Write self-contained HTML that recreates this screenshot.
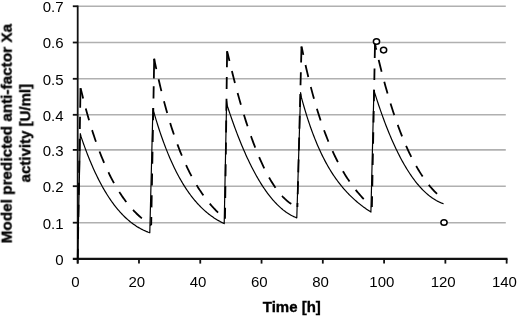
<!DOCTYPE html>
<html><head><meta charset="utf-8"><style>
html,body{margin:0;padding:0;background:#fff;}
body{width:520px;height:317px;overflow:hidden;}
svg{display:block;filter:blur(0.35px);}
text{will-change:transform;}
</style></head><body>
<svg width="520" height="317" viewBox="0 0 520 317">
<line x1="78" y1="6.25" x2="505.8" y2="6.25" stroke="#b0b0b0" stroke-width="1.6"/>
<line x1="78" y1="42.5" x2="505.8" y2="42.5" stroke="#b0b0b0" stroke-width="1.6"/>
<line x1="78" y1="78.8" x2="505.8" y2="78.8" stroke="#b0b0b0" stroke-width="1.6"/>
<line x1="78" y1="114.8" x2="505.8" y2="114.8" stroke="#b0b0b0" stroke-width="1.6"/>
<line x1="78" y1="149.9" x2="505.8" y2="149.9" stroke="#b0b0b0" stroke-width="1.6"/>
<line x1="78" y1="186.2" x2="505.8" y2="186.2" stroke="#b0b0b0" stroke-width="1.6"/>
<line x1="78" y1="222.7" x2="505.8" y2="222.7" stroke="#b0b0b0" stroke-width="1.6"/>
<line x1="77.7" y1="5.4" x2="77.7" y2="263.6" stroke="#111" stroke-width="1.8"/>
<line x1="72.8" y1="258.95" x2="507.5" y2="258.95" stroke="#111" stroke-width="2.2"/>
<line x1="72.8" y1="6.25" x2="77.7" y2="6.25" stroke="#111" stroke-width="1.8"/>
<line x1="72.8" y1="42.5" x2="77.7" y2="42.5" stroke="#111" stroke-width="1.8"/>
<line x1="72.8" y1="78.8" x2="77.7" y2="78.8" stroke="#111" stroke-width="1.8"/>
<line x1="72.8" y1="114.8" x2="77.7" y2="114.8" stroke="#111" stroke-width="1.8"/>
<line x1="72.8" y1="149.9" x2="77.7" y2="149.9" stroke="#111" stroke-width="1.8"/>
<line x1="72.8" y1="186.2" x2="77.7" y2="186.2" stroke="#111" stroke-width="1.8"/>
<line x1="72.8" y1="222.7" x2="77.7" y2="222.7" stroke="#111" stroke-width="1.8"/>
<line x1="77.70" y1="258.8" x2="77.70" y2="263.6" stroke="#111" stroke-width="1.8"/>
<line x1="138.98" y1="258.8" x2="138.98" y2="263.6" stroke="#111" stroke-width="1.8"/>
<line x1="200.26" y1="258.8" x2="200.26" y2="263.6" stroke="#111" stroke-width="1.8"/>
<line x1="261.54" y1="258.8" x2="261.54" y2="263.6" stroke="#111" stroke-width="1.8"/>
<line x1="322.81" y1="258.8" x2="322.81" y2="263.6" stroke="#111" stroke-width="1.8"/>
<line x1="384.09" y1="258.8" x2="384.09" y2="263.6" stroke="#111" stroke-width="1.8"/>
<line x1="445.37" y1="258.8" x2="445.37" y2="263.6" stroke="#111" stroke-width="1.8"/>
<line x1="506.65" y1="258.8" x2="506.65" y2="263.6" stroke="#111" stroke-width="1.8"/>
<path d="M77.70,258.80 L80.30,133.60 L81.10,136.76 L81.90,139.11 L82.70,141.42 L83.50,143.69 L84.30,145.91 L85.10,148.10 L85.90,150.25 L86.70,152.36 L87.50,154.43 L88.30,156.46 L89.10,158.46 L89.90,160.42 L90.70,162.34 L91.50,164.23 L92.30,166.08 L93.10,167.90 L93.90,169.68 L94.70,171.44 L95.50,173.15 L96.30,174.84 L97.10,176.49 L97.90,178.11 L98.70,179.70 L99.50,181.26 L100.30,182.79 L101.10,184.29 L101.90,185.76 L102.70,187.20 L103.50,188.61 L104.30,189.99 L105.10,191.35 L105.90,192.67 L106.70,193.98 L107.50,195.25 L108.30,196.50 L109.10,197.72 L109.90,198.91 L110.70,200.08 L111.50,201.23 L112.30,202.35 L113.10,203.45 L113.90,204.52 L114.70,205.57 L115.50,206.60 L116.30,207.60 L117.10,208.58 L117.90,209.54 L118.70,210.48 L119.50,211.39 L120.30,212.29 L121.10,213.16 L121.90,214.01 L122.70,214.84 L123.50,215.66 L124.30,216.45 L125.10,217.22 L125.90,217.97 L126.70,218.71 L127.50,219.42 L128.30,220.12 L129.10,220.80 L129.90,221.46 L130.70,222.10 L131.50,222.73 L132.30,223.34 L133.10,223.93 L133.90,224.50 L134.70,225.06 L135.50,225.60 L136.30,226.13 L137.10,226.64 L137.90,227.14 L138.70,227.61 L139.50,228.08 L140.30,228.53 L141.10,228.96 L141.90,229.38 L142.70,229.79 L143.50,230.18 L144.30,230.56 L145.10,230.92 L145.90,231.27 L146.70,231.61 L147.50,231.93 L148.30,232.25 L149.10,232.54 L149.80,232.80 L149.80,232.80 L152.90,108.50 L153.70,111.71 L154.50,114.47 L155.30,117.18 L156.10,119.83 L156.90,122.44 L157.70,124.99 L158.50,127.49 L159.30,129.94 L160.10,132.34 L160.90,134.69 L161.70,137.00 L162.50,139.26 L163.30,141.47 L164.10,143.64 L164.90,145.77 L165.70,147.86 L166.50,149.90 L167.30,151.90 L168.10,153.86 L168.90,155.78 L169.70,157.66 L170.50,159.51 L171.30,161.31 L172.10,163.08 L172.90,164.82 L173.70,166.51 L174.50,168.18 L175.30,169.80 L176.10,171.40 L176.90,172.96 L177.70,174.49 L178.50,175.99 L179.30,177.45 L180.10,178.89 L180.90,180.29 L181.70,181.67 L182.50,183.01 L183.30,184.33 L184.10,185.62 L184.90,186.88 L185.70,188.12 L186.50,189.33 L187.30,190.51 L188.10,191.67 L188.90,192.80 L189.70,193.91 L190.50,194.99 L191.30,196.05 L192.10,197.09 L192.90,198.10 L193.70,199.09 L194.50,200.06 L195.30,201.01 L196.10,201.94 L196.90,202.84 L197.70,203.73 L198.50,204.59 L199.30,205.44 L200.10,206.26 L200.90,207.07 L201.70,207.86 L202.50,208.63 L203.30,209.38 L204.10,210.11 L204.90,210.83 L205.70,211.53 L206.50,212.21 L207.30,212.88 L208.10,213.53 L208.90,214.16 L209.70,214.78 L210.50,215.39 L211.30,215.98 L212.10,216.55 L212.90,217.11 L213.70,217.65 L214.50,218.19 L215.30,218.70 L216.10,219.21 L216.90,219.70 L217.70,220.18 L218.50,220.64 L219.30,221.10 L220.10,221.54 L220.90,221.97 L221.70,222.38 L222.50,222.79 L223.30,223.19 L224.10,223.57 L224.20,223.62 L224.20,223.62 L226.60,100.80 L227.40,106.09 L228.20,108.53 L229.00,110.94 L229.80,113.33 L230.60,115.68 L231.40,118.00 L232.20,120.29 L233.00,122.55 L233.80,124.77 L234.60,126.97 L235.40,129.14 L236.20,131.28 L237.00,133.38 L237.80,135.46 L238.60,137.51 L239.40,139.53 L240.20,141.52 L241.00,143.48 L241.80,145.42 L242.60,147.32 L243.40,149.20 L244.20,151.04 L245.00,152.86 L245.80,154.65 L246.60,156.42 L247.40,158.15 L248.20,159.86 L249.00,161.54 L249.80,163.20 L250.60,164.82 L251.40,166.42 L252.20,168.00 L253.00,169.55 L253.80,171.07 L254.60,172.56 L255.40,174.03 L256.20,175.47 L257.00,176.89 L257.80,178.28 L258.60,179.64 L259.40,180.98 L260.20,182.30 L261.00,183.59 L261.80,184.86 L262.60,186.10 L263.40,187.31 L264.20,188.50 L265.00,189.67 L265.80,190.81 L266.60,191.93 L267.40,193.03 L268.20,194.10 L269.00,195.14 L269.80,196.17 L270.60,197.17 L271.40,198.15 L272.20,199.10 L273.00,200.03 L273.80,200.94 L274.60,201.83 L275.40,202.69 L276.20,203.53 L277.00,204.35 L277.80,205.14 L278.60,205.92 L279.40,206.67 L280.20,207.40 L281.00,208.11 L281.80,208.80 L282.60,209.46 L283.40,210.11 L284.20,210.73 L285.00,211.33 L285.80,211.91 L286.60,212.48 L287.40,213.01 L288.20,213.53 L289.00,214.03 L289.80,214.51 L290.60,214.97 L291.40,215.41 L292.20,215.83 L293.00,216.22 L293.80,216.60 L294.60,216.96 L295.40,217.30 L296.20,217.62 L296.80,217.85 L296.80,217.85 L300.60,92.60 L301.40,97.38 L302.20,100.32 L303.00,103.20 L303.80,106.00 L304.60,108.74 L305.40,111.42 L306.20,114.04 L307.00,116.59 L307.80,119.08 L308.60,121.52 L309.40,123.90 L310.20,126.22 L311.00,128.50 L311.80,130.72 L312.60,132.88 L313.40,135.00 L314.20,137.07 L315.00,139.10 L315.80,141.08 L316.60,143.01 L317.40,144.90 L318.20,146.74 L319.00,148.55 L319.80,150.32 L320.60,152.04 L321.40,153.73 L322.20,155.38 L323.00,156.99 L323.80,158.57 L324.60,160.11 L325.40,161.62 L326.20,163.10 L327.00,164.55 L327.80,165.96 L328.60,167.34 L329.40,168.70 L330.20,170.02 L331.00,171.32 L331.80,172.59 L332.60,173.83 L333.40,175.05 L334.20,176.24 L335.00,177.40 L335.80,178.55 L336.60,179.67 L337.40,180.76 L338.20,181.83 L339.00,182.89 L339.80,183.92 L340.60,184.93 L341.40,185.92 L342.20,186.89 L343.00,187.84 L343.80,188.77 L344.60,189.68 L345.40,190.58 L346.20,191.46 L347.00,192.32 L347.80,193.17 L348.60,194.00 L349.40,194.81 L350.20,195.61 L351.00,196.39 L351.80,197.16 L352.60,197.92 L353.40,198.66 L354.20,199.39 L355.00,200.10 L355.80,200.81 L356.60,201.50 L357.40,202.18 L358.20,202.84 L359.00,203.50 L359.80,204.14 L360.60,204.77 L361.40,205.40 L362.20,206.01 L363.00,206.61 L363.80,207.20 L364.60,207.79 L365.40,208.36 L366.20,208.92 L367.00,209.48 L367.80,210.03 L368.60,210.57 L369.40,211.10 L370.20,211.62 L370.90,212.07 L370.90,212.07 L373.90,90.20 L374.70,92.88 L375.50,95.42 L376.30,97.92 L377.10,100.38 L377.90,102.80 L378.70,105.20 L379.50,107.55 L380.30,109.87 L381.10,112.16 L381.90,114.41 L382.70,116.63 L383.50,118.82 L384.30,120.97 L385.10,123.09 L385.90,125.18 L386.70,127.23 L387.50,129.26 L388.30,131.25 L389.10,133.21 L389.90,135.13 L390.70,137.03 L391.50,138.89 L392.30,140.73 L393.10,142.53 L393.90,144.30 L394.70,146.05 L395.50,147.76 L396.30,149.44 L397.10,151.10 L397.90,152.72 L398.70,154.32 L399.50,155.88 L400.30,157.42 L401.10,158.93 L401.90,160.42 L402.70,161.87 L403.50,163.30 L404.30,164.70 L405.10,166.07 L405.90,167.42 L406.70,168.74 L407.50,170.03 L408.30,171.29 L409.10,172.53 L409.90,173.75 L410.70,174.93 L411.50,176.10 L412.30,177.23 L413.10,178.35 L413.90,179.43 L414.70,180.50 L415.50,181.53 L416.30,182.55 L417.10,183.54 L417.90,184.50 L418.70,185.44 L419.50,186.36 L420.30,187.26 L421.10,188.13 L421.90,188.98 L422.70,189.80 L423.50,190.60 L424.30,191.38 L425.10,192.14 L425.90,192.88 L426.70,193.59 L427.50,194.28 L428.30,194.95 L429.10,195.60 L429.90,196.23 L430.70,196.83 L431.50,197.42 L432.30,197.98 L433.10,198.53 L433.90,199.05 L434.70,199.55 L435.50,200.03 L436.30,200.50 L437.10,200.94 L437.90,201.36 L438.70,201.76 L439.50,202.15 L440.30,202.51 L441.10,202.86 L441.90,203.18 L442.70,203.49 L443.50,203.78 L443.60,203.81" fill="none" stroke="#000" stroke-width="1.2" stroke-linejoin="round"/>
<path d="M80.50,88.20 L81.30,91.01 L82.10,94.28 L82.90,97.49 L83.70,100.64 L84.50,103.72 L85.30,106.75 L86.10,109.71 L86.90,112.62 L87.70,115.47 L88.50,118.26 L89.30,120.99 L90.10,123.67 L90.90,126.30 L91.70,128.88 L92.50,131.40 L93.30,133.88 L94.10,136.30 L94.90,138.68 L95.70,141.01 L96.50,143.29 L97.30,145.52 L98.10,147.72 L98.90,149.86 L99.70,151.97 L100.50,154.03 L101.30,156.05 L102.10,158.03 L102.90,159.96 L103.70,161.86 L104.50,163.72 L105.30,165.55 L106.10,167.33 L106.90,169.08 L107.70,170.79 L108.50,172.47 L109.30,174.12 L110.10,175.73 L110.90,177.30 L111.70,178.85 L112.50,180.36 L113.30,181.84 L114.10,183.29 L114.90,184.71 L115.70,186.10 L116.50,187.46 L117.30,188.79 L118.10,190.10 L118.90,191.38 L119.70,192.63 L120.50,193.85 L121.30,195.05 L122.10,196.22 L122.90,197.37 L123.70,198.49 L124.50,199.59 L125.30,200.67 L126.10,201.72 L126.90,202.75 L127.70,203.76 L128.50,204.75 L129.30,205.71 L130.10,206.65 L130.90,207.58 L131.70,208.48 L132.50,209.36 L133.30,210.23 L134.10,211.07 L134.90,211.90 L135.70,212.70 L136.50,213.49 L137.30,214.26 L138.10,215.02 L138.90,215.75 L139.70,216.47 L140.50,217.18 L141.30,217.87 L142.10,218.54 L142.90,219.20 L143.70,219.84 L144.50,220.46 L145.30,221.07 L146.10,221.67 L146.90,222.25 L147.70,222.82 L148.50,223.38 L149.30,223.92 L150.10,224.45 L150.90,224.97 L151.20,225.16" fill="none" stroke="#000" stroke-width="1.8" stroke-dasharray="12.25 10.35" stroke-dashoffset="1.70"/>
<path d="M154.20,58.80 L155.00,62.81 L155.80,66.61 L156.60,70.34 L157.40,73.99 L158.20,77.56 L159.00,81.06 L159.80,84.49 L160.60,87.84 L161.40,91.13 L162.20,94.35 L163.00,97.50 L163.80,100.58 L164.60,103.61 L165.40,106.57 L166.20,109.46 L167.00,112.30 L167.80,115.08 L168.60,117.81 L169.40,120.47 L170.20,123.09 L171.00,125.65 L171.80,128.15 L172.60,130.61 L173.40,133.01 L174.20,135.37 L175.00,137.68 L175.80,139.94 L176.60,142.15 L177.40,144.32 L178.20,146.44 L179.00,148.53 L179.80,150.57 L180.60,152.56 L181.40,154.52 L182.20,156.44 L183.00,158.32 L183.80,160.16 L184.60,161.96 L185.40,163.73 L186.20,165.46 L187.00,167.16 L187.80,168.82 L188.60,170.45 L189.40,172.05 L190.20,173.61 L191.00,175.15 L191.80,176.65 L192.60,178.12 L193.40,179.57 L194.20,180.98 L195.00,182.37 L195.80,183.73 L196.60,185.06 L197.40,186.37 L198.20,187.65 L199.00,188.90 L199.80,190.13 L200.60,191.34 L201.40,192.52 L202.20,193.68 L203.00,194.82 L203.80,195.94 L204.60,197.03 L205.40,198.10 L206.20,199.15 L207.00,200.19 L207.80,201.20 L208.60,202.19 L209.40,203.16 L210.20,204.12 L211.00,205.05 L211.80,205.97 L212.60,206.87 L213.40,207.75 L214.20,208.62 L215.00,209.47 L215.80,210.31 L216.60,211.12 L217.40,211.93 L218.20,212.72 L219.00,213.49 L219.80,214.25 L220.60,214.99 L221.40,215.73 L222.20,216.44 L223.00,217.15 L223.80,217.84 L224.60,218.52 L225.00,218.86" fill="none" stroke="#000" stroke-width="1.8" stroke-dasharray="12.25 10.35" stroke-dashoffset="1.70"/>
<path d="M227.10,51.30 L227.90,54.27 L228.70,57.70 L229.50,61.10 L230.30,64.44 L231.10,67.75 L231.90,71.01 L232.70,74.22 L233.50,77.39 L234.30,80.52 L235.10,83.60 L235.90,86.64 L236.70,89.64 L237.50,92.60 L238.30,95.51 L239.10,98.38 L239.90,101.21 L240.70,104.00 L241.50,106.74 L242.30,109.45 L243.10,112.11 L243.90,114.73 L244.70,117.32 L245.50,119.86 L246.30,122.36 L247.10,124.82 L247.90,127.24 L248.70,129.62 L249.50,131.96 L250.30,134.26 L251.10,136.53 L251.90,138.75 L252.70,140.93 L253.50,143.08 L254.30,145.19 L255.10,147.26 L255.90,149.29 L256.70,151.28 L257.50,153.24 L258.30,155.16 L259.10,157.04 L259.90,158.89 L260.70,160.70 L261.50,162.47 L262.30,164.20 L263.10,165.90 L263.90,167.56 L264.70,169.19 L265.50,170.78 L266.30,172.34 L267.10,173.86 L267.90,175.34 L268.70,176.79 L269.50,178.20 L270.30,179.58 L271.10,180.93 L271.90,182.24 L272.70,183.52 L273.50,184.76 L274.30,185.97 L275.10,187.15 L275.90,188.29 L276.70,189.40 L277.50,190.47 L278.30,191.52 L279.10,192.52 L279.90,193.50 L280.70,194.45 L281.50,195.36 L282.30,196.24 L283.10,197.09 L283.90,197.90 L284.70,198.69 L285.50,199.44 L286.30,200.16 L287.10,200.85 L287.90,201.51 L288.70,202.14 L289.50,202.74 L290.30,203.30 L291.10,203.84 L291.90,204.35 L292.70,204.82 L293.50,205.27 L294.30,205.69 L295.10,206.07 L295.90,206.43 L296.70,206.76 L297.40,207.02" fill="none" stroke="#000" stroke-width="1.8" stroke-dasharray="12.25 10.35" stroke-dashoffset="2.25"/>
<path d="M301.50,46.60 L302.30,50.05 L303.10,53.89 L303.90,57.65 L304.70,61.33 L305.50,64.93 L306.30,68.46 L307.10,71.91 L307.90,75.29 L308.70,78.60 L309.50,81.83 L310.30,85.00 L311.10,88.11 L311.90,91.14 L312.70,94.12 L313.50,97.03 L314.30,99.88 L315.10,102.67 L315.90,105.40 L316.70,108.08 L317.50,110.70 L318.30,113.27 L319.10,115.78 L319.90,118.24 L320.70,120.65 L321.50,123.01 L322.30,125.32 L323.10,127.59 L323.90,129.80 L324.70,131.97 L325.50,134.10 L326.30,136.19 L327.10,138.23 L327.90,140.23 L328.70,142.19 L329.50,144.11 L330.30,145.99 L331.10,147.83 L331.90,149.64 L332.70,151.41 L333.50,153.15 L334.30,154.85 L335.10,156.51 L335.90,158.14 L336.70,159.74 L337.50,161.31 L338.30,162.85 L339.10,164.36 L339.90,165.84 L340.70,167.29 L341.50,168.71 L342.30,170.10 L343.10,171.47 L343.90,172.81 L344.70,174.12 L345.50,175.41 L346.30,176.67 L347.10,177.91 L347.90,179.13 L348.70,180.32 L349.50,181.49 L350.30,182.64 L351.10,183.77 L351.90,184.87 L352.70,185.96 L353.50,187.02 L354.30,188.07 L355.10,189.09 L355.90,190.10 L356.70,191.09 L357.50,192.06 L358.30,193.01 L359.10,193.95 L359.90,194.86 L360.70,195.77 L361.50,196.65 L362.30,197.52 L363.10,198.38 L363.90,199.22 L364.70,200.04 L365.50,200.85 L366.30,201.65 L367.10,202.43 L367.90,203.20 L368.70,203.96 L369.50,204.70 L370.30,205.43 L371.10,206.15 L371.90,206.86" fill="none" stroke="#000" stroke-width="1.8" stroke-dasharray="12.25 10.35" stroke-dashoffset="3.75"/>
<path d="M375.00,43.50 L375.80,47.53 L376.60,51.03 L377.40,54.47 L378.20,57.86 L379.00,61.19 L379.80,64.47 L380.60,67.69 L381.40,70.86 L382.20,73.97 L383.00,77.04 L383.80,80.05 L384.60,83.01 L385.40,85.92 L386.20,88.79 L387.00,91.60 L387.80,94.36 L388.60,97.08 L389.40,99.75 L390.20,102.38 L391.00,104.96 L391.80,107.49 L392.60,109.98 L393.40,112.43 L394.20,114.83 L395.00,117.19 L395.80,119.51 L396.60,121.79 L397.40,124.03 L398.20,126.22 L399.00,128.38 L399.80,130.50 L400.60,132.57 L401.40,134.62 L402.20,136.62 L403.00,138.58 L403.80,140.51 L404.60,142.41 L405.40,144.26 L406.20,146.09 L407.00,147.87 L407.80,149.63 L408.60,151.35 L409.40,153.03 L410.20,154.69 L411.00,156.31 L411.80,157.90 L412.60,159.46 L413.40,160.98 L414.20,162.48 L415.00,163.95 L415.80,165.38 L416.60,166.79 L417.40,168.17 L418.20,169.52 L419.00,170.84 L419.80,172.13 L420.60,173.39 L421.40,174.63 L422.20,175.84 L423.00,177.03 L423.80,178.19 L424.60,179.32 L425.40,180.43 L426.20,181.51 L427.00,182.57 L427.80,183.60 L428.60,184.61 L429.40,185.60 L430.20,186.56 L431.00,187.50 L431.80,188.42 L432.60,189.31 L433.40,190.19 L434.20,191.04 L435.00,191.86 L435.80,192.67 L436.60,193.46 L437.40,194.23 L438.20,194.97 L439.00,195.70 L439.80,196.40 L440.60,197.09 L441.40,197.76 L442.20,198.40 L443.00,199.03 L443.60,199.49" fill="none" stroke="#000" stroke-width="1.8" stroke-dasharray="12.25 10.35" stroke-dashoffset="5.85"/>
<path d="M80.50,88.20 L77.70,258.80" fill="none" stroke="#000" stroke-width="1.8" stroke-dasharray="19.5 9.0 12.2 9.8 12.2 9.8 12.2 9.8 12.2 9.8 12.2 9.8 12.2 9.8 12.2 9.8 12.2 9.8 12.2 9.8 12.2 9.8 12.2 9.8 12.2 9.8"/>
<path d="M154.20,58.80 L151.20,225.16" fill="none" stroke="#000" stroke-width="1.8" stroke-dasharray="19.7 7.8 12.1 9.7 12.1 9.7 12.1 9.7 12.1 9.7 12.1 9.7 12.1 9.7 12.1 9.7 12.1 9.7 12.1 9.7 12.1 9.7 12.1 9.7 12.1 9.7"/>
<path d="M227.10,51.30 L225.00,218.86" fill="none" stroke="#000" stroke-width="1.8" stroke-dasharray="15.9 9.8 12.0 9.8 12.0 9.8 12.0 9.8 12.0 9.8 12.0 9.8 12.0 9.8 12.0 9.8 12.0 9.8 12.0 9.8 12.0 9.8 12.0 9.8 12.0 9.8"/>
<path d="M301.50,46.60 L297.40,207.02" fill="none" stroke="#000" stroke-width="1.8" stroke-dasharray="15.9 9.7 13.0 8.8 13.0 8.8 13.0 8.8 13.0 8.8 13.0 8.8 13.0 8.8 13.0 8.8 13.0 8.8 13.0 8.8 13.0 8.8 13.0 8.8 13.0 8.8"/>
<path d="M375.00,43.50 L371.90,206.86" fill="none" stroke="#000" stroke-width="1.8" stroke-dasharray="14.4 10.5 11.5 9.8 11.5 9.8 11.5 9.8 11.5 9.8 11.5 9.8 11.5 9.8 11.5 9.8 11.5 9.8 11.5 9.8 11.5 9.8 11.5 9.8 11.5 9.8"/>
<ellipse cx="376.5" cy="41.5" rx="3.1" ry="2.8" fill="#fff" stroke="#000" stroke-width="1.5"/>
<ellipse cx="383.6" cy="50.1" rx="3.1" ry="2.8" fill="#fff" stroke="#000" stroke-width="1.5"/>
<ellipse cx="444" cy="222.5" rx="3.1" ry="2.8" fill="#fff" stroke="#000" stroke-width="1.5"/>
<text x="63.5" y="12.05" font-family="&quot;Liberation Sans&quot;, sans-serif" font-size="15" text-anchor="end">0.7</text>
<text x="63.5" y="48.30" font-family="&quot;Liberation Sans&quot;, sans-serif" font-size="15" text-anchor="end">0.6</text>
<text x="63.5" y="84.60" font-family="&quot;Liberation Sans&quot;, sans-serif" font-size="15" text-anchor="end">0.5</text>
<text x="63.5" y="120.60" font-family="&quot;Liberation Sans&quot;, sans-serif" font-size="15" text-anchor="end">0.4</text>
<text x="63.5" y="155.70" font-family="&quot;Liberation Sans&quot;, sans-serif" font-size="15" text-anchor="end">0.3</text>
<text x="63.5" y="192.00" font-family="&quot;Liberation Sans&quot;, sans-serif" font-size="15" text-anchor="end">0.2</text>
<text x="63.5" y="228.50" font-family="&quot;Liberation Sans&quot;, sans-serif" font-size="15" text-anchor="end">0.1</text>
<text x="63.5" y="264.60" font-family="&quot;Liberation Sans&quot;, sans-serif" font-size="15" text-anchor="end">0</text>
<text x="75.50" y="286.8" font-family="&quot;Liberation Sans&quot;, sans-serif" font-size="15" text-anchor="middle">0</text>
<text x="136.78" y="286.8" font-family="&quot;Liberation Sans&quot;, sans-serif" font-size="15" text-anchor="middle">20</text>
<text x="198.06" y="286.8" font-family="&quot;Liberation Sans&quot;, sans-serif" font-size="15" text-anchor="middle">40</text>
<text x="259.34" y="286.8" font-family="&quot;Liberation Sans&quot;, sans-serif" font-size="15" text-anchor="middle">60</text>
<text x="320.61" y="286.8" font-family="&quot;Liberation Sans&quot;, sans-serif" font-size="15" text-anchor="middle">80</text>
<text x="381.89" y="286.8" font-family="&quot;Liberation Sans&quot;, sans-serif" font-size="15" text-anchor="middle">100</text>
<text x="443.17" y="286.8" font-family="&quot;Liberation Sans&quot;, sans-serif" font-size="15" text-anchor="middle">120</text>
<text x="504.45" y="286.8" font-family="&quot;Liberation Sans&quot;, sans-serif" font-size="15" text-anchor="middle">140</text>
<text x="291.8" y="312.2" font-family="&quot;Liberation Sans&quot;, sans-serif" font-size="15" font-weight="bold" stroke="#000" stroke-width="0.35" text-anchor="middle">Time [h]</text>
<g transform="translate(11.7,133.6) rotate(-90)"><text x="0" y="0" font-family="&quot;Liberation Sans&quot;, sans-serif" font-size="15.3" font-weight="bold" stroke="#000" stroke-width="0.35" text-anchor="middle">Model predicted anti-factor Xa</text></g>
<g transform="translate(30.3,133.2) rotate(-90)"><text x="0" y="0" font-family="&quot;Liberation Sans&quot;, sans-serif" font-size="15" font-weight="bold" stroke="#000" stroke-width="0.35" text-anchor="middle">activity [U/ml]</text></g>
</svg>
</body></html>
